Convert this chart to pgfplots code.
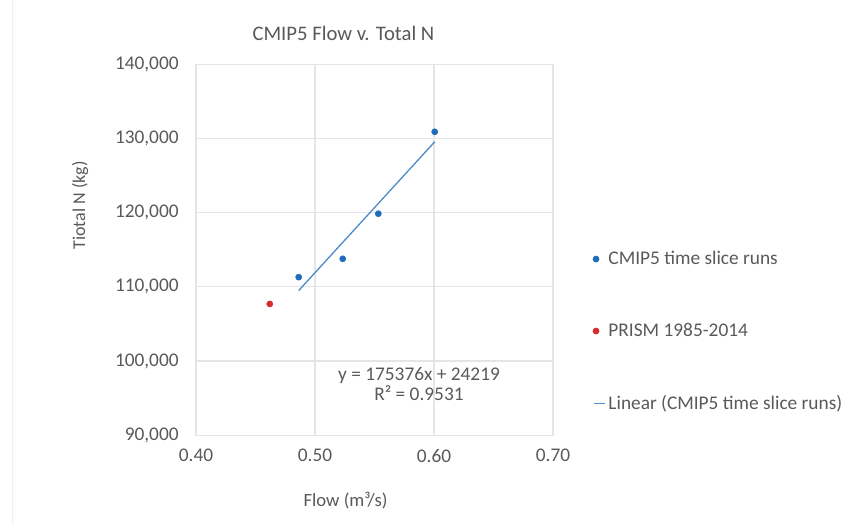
\documentclass[border=0pt]{standalone}
\usepackage{fontspec}
\setmainfont{Carlito}
\usepackage{pgfplots}
\pgfplotsset{compat=1.18}
\definecolor{txt}{RGB}{89,89,89}
\definecolor{ptblue}{RGB}{30,108,188}
\definecolor{ptred}{RGB}{214,44,44}
\definecolor{trend}{RGB}{82,140,205}
\definecolor{gridc}{RGB}{229,229,229}
\pgfplotsset{
  dotlegend/.style={legend image code/.code={\draw[##1] plot coordinates {(0.05cm,0cm)};}},
  linelegend/.style={legend image code/.code={\draw[##1] (0cm,0cm) -- (0.29cm,0cm);}},
}

\begin{document}
\begin{tikzpicture}
\path (0,0) rectangle (642.75pt,393pt);
\draw[gridc!60] (9pt,0) -- (9pt,393pt);
\begin{axis}[
  at={(147pt,66.75pt)}, anchor=south west,
  width=267.75pt, height=278.25pt, scale only axis,
  xmin=0.4, xmax=0.7, ymin=90000, ymax=140000,
  xtick={0.4,0.5,0.6,0.7},
  ytick={90000,100000,110000,120000,130000,140000},
  scaled x ticks=false, scaled y ticks=false,
  grid=major, major grid style={gridc, line width=0.9pt},
  axis line style={gridc, line width=0.9pt},
  major tick length=0pt,
  tick label style={font=\fontsize{14.5}{17}\selectfont, text=txt},
  /pgf/number format/assume math mode=true,
  xticklabel style={yshift=-7pt, /pgf/number format/.cd, fixed, fixed zerofill, precision=2},
  yticklabel style={xshift=-9.5pt, /pgf/number format/.cd, fixed, 1000 sep={,}},
  legend style={at={(axis description cs:1.10,0.28)}, anchor=west, draw=none, fill=none,
    font=\fontsize{14.5}{17}\selectfont, text=txt, row sep=38.5pt},
  legend cell align=left,
  clip=false,
]
\addplot[only marks, mark=*, mark size=2.3pt, color=ptblue, dotlegend]
  coordinates {(0.4863,111310) (0.5233,113780) (0.5532,119860) (0.6006,130900)};
\addlegendentry{CMIP5 time slice runs}
\addplot[only marks, mark=*, mark size=2.3pt, color=ptred, dotlegend]
  coordinates {(0.4620,107700)};
\addlegendentry{PRISM 1985-2014}
\addplot[trend, line width=1pt, linelegend]
  coordinates {(0.4863,109504) (0.6006,129550)};
\addlegendentry{Linear (CMIP5 time slice runs)}
\node[align=center, text=txt, font=\fontsize{14.5}{15}\selectfont] at (axis cs:0.5874,96890)
  {y = 175376x + 24219\\R² = 0.9531};
\node[text=txt, font=\fontsize{15.5}{18}\selectfont] at (axis description cs:0.413,1.0836)
  {CMIP5 Flow v. Total N};
\node[text=txt, rotate=90, font=\fontsize{13.5}{16}\selectfont] at (axis description cs:-0.325,0.620)
  {Tiotal N (kg)};
\node[text=txt, font=\fontsize{14}{16}\selectfont] at (axis description cs:0.419,-0.175)
  {Flow (m³/s)};
\end{axis}
\end{tikzpicture}
\end{document}
